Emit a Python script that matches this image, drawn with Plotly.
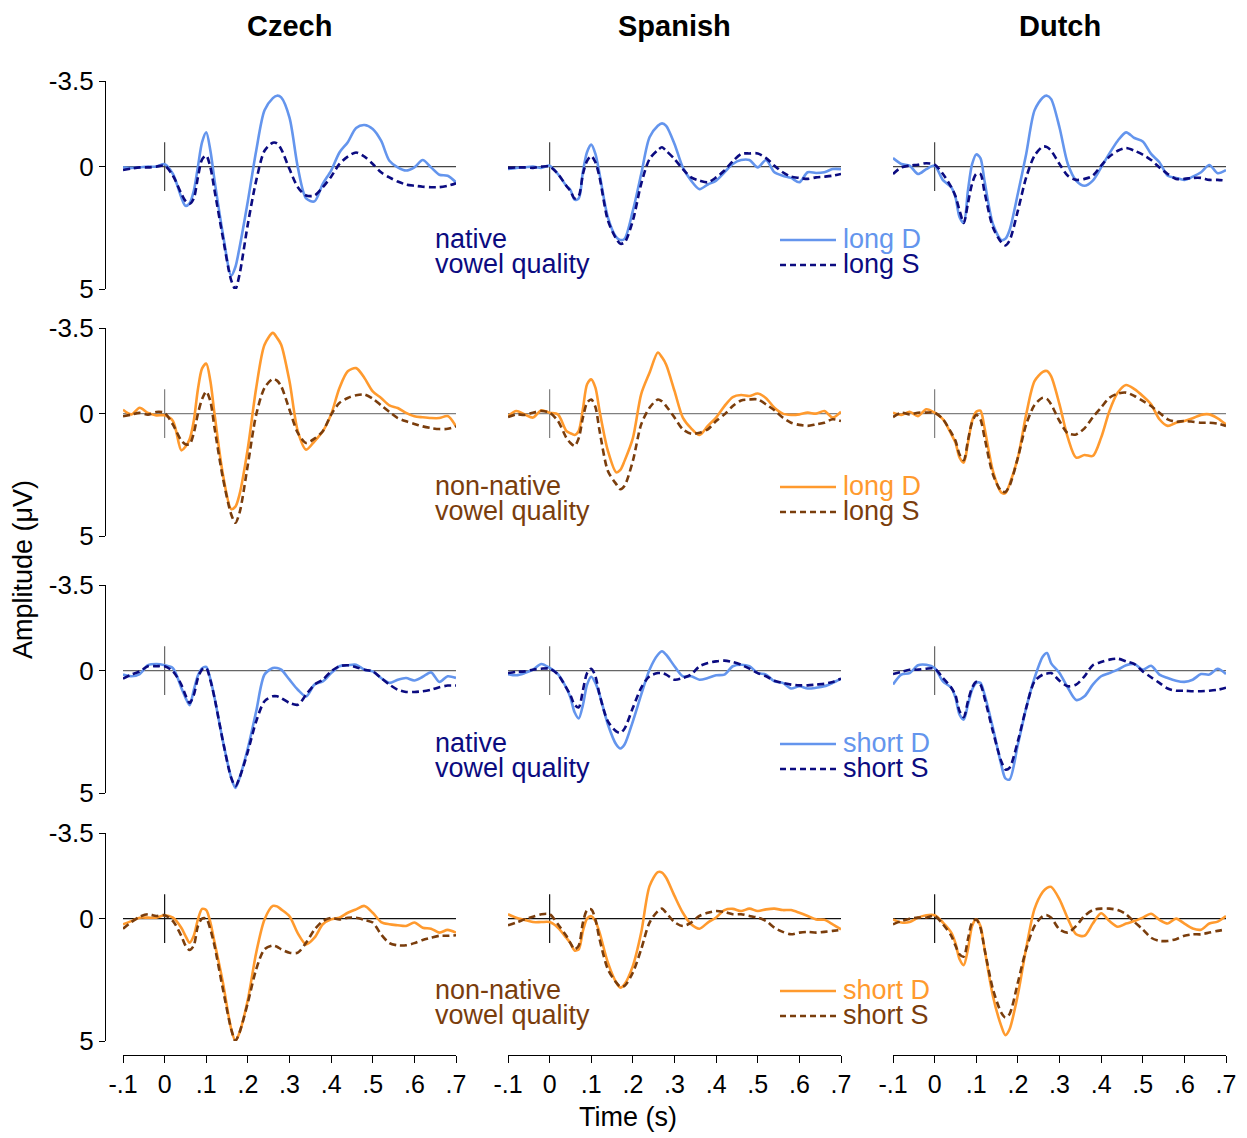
import plotly.graph_objects as go

# ---------------- data ----------------
TIME = [-0.10, -0.08, -0.06, -0.04, -0.02, 0.00, 0.02, 0.04,
        0.05, 0.06, 0.07, 0.08, 0.09, 0.10, 0.11, 0.12,
        0.14, 0.16, 0.17, 0.18,
        0.20, 0.22, 0.24, 0.26, 0.27, 0.28,
        0.30, 0.32, 0.34, 0.36, 0.38, 0.40, 0.42, 0.44, 0.46, 0.48, 0.50,
        0.52, 0.54, 0.56, 0.58, 0.60, 0.62, 0.64, 0.66, 0.68, 0.70]

LANGUAGES = ["Czech", "Spanish", "Dutch"]
X_TICKS = [-0.1, 0.0, 0.1, 0.2, 0.3, 0.4, 0.5, 0.6, 0.7]
X_TICK_TEXT = ["-.1", "0", ".1", ".2", ".3", ".4", ".5", ".6", ".7"]
Y_TICKS = [-3.5, 0, 5]
Y_TICK_TEXT = ["-3.5", "0", "5"]

# Row 1: native vowel quality, long D / long S
CZ_NAT_LONG_D = [0.03, 0.05, 0.03, 0.0, 0.0, -0.1, 0.3, 1.25,
                 1.6, 1.5, 1.0, 0.0, -1.0, -1.4, -0.65, 0.57,
                 2.75, 4.45, 4.1, 3.3,
                 1.4, -0.65, -2.3, -2.8, -2.9, -2.83,
                 -2.0, 0.03, 1.3, 1.42, 0.7, 0.16, -0.58, -1.0, -1.58, -1.7, -1.54,
                 -1.06, -0.24, 0.03, 0.16, 0.03, -0.27, 0.03, 0.33, 0.37, 0.64]
CZ_NAT_LONG_S = [0.14, 0.08, 0.03, 0.03, 0.0, -0.04, 0.37, 1.1,
                 1.4, 1.52, 1.3, 0.43, -0.3, -0.45, 0.03, 0.98,
                 2.9, 4.65, 5.0, 4.4,
                 2.34, 0.57, -0.65, -0.98, -0.95, -0.72,
                 0.1, 0.84, 1.18, 1.18, 0.84, 0.41, -0.11, -0.41, -0.58, -0.41, -0.11,
                 0.23, 0.44, 0.61, 0.73, 0.78, 0.82, 0.84, 0.84, 0.78, 0.68]
ES_NAT_LONG_D = [0.1, 0.05, 0.03, 0.0, 0.05, -0.04, 0.3, 0.78,
                 0.95, 1.35, 1.3, 0.2, -0.6, -0.9, -0.52, 0.3,
                 2.07, 2.88, 3.0, 2.95,
                 1.8, 0.3, -1.2, -1.67, -1.77, -1.67,
                 -0.93, 0.03, 0.57, 0.92, 0.73, 0.57, 0.23, -0.11, -0.27, -0.27, 0.03,
                 -0.27, 0.23, 0.37, 0.46, 0.64, 0.23, 0.26, 0.23, 0.1, 0.1]
ES_NAT_LONG_S = [0.05, 0.03, 0.03, 0.05, 0.0, 0.0, 0.3, 0.78,
                 1.0, 1.3, 1.2, 0.3, -0.24, -0.43, -0.18, 0.44,
                 2.2, 2.95, 3.15, 3.1,
                 2.2, 0.7, -0.31, -0.68, -0.79, -0.65,
                 -0.31, 0.1, 0.44, 0.57, 0.64, 0.44, 0.16, -0.22, -0.52, -0.54, -0.54,
                 -0.35, -0.04, 0.23, 0.41, 0.46, 0.5, 0.44, 0.41, 0.37, 0.3]
NL_NAT_LONG_D = [-0.35, -0.11, -0.04, 0.3, 0.1, -0.04, 0.55, 0.84,
                 1.25, 2.07, 2.3, 0.98, -0.1, -0.5, -0.35, 0.6,
                 2.34, 3.0, 2.95, 2.6,
                 1.1, -0.52, -2.3, -2.83, -2.9, -2.76,
                 -1.6, -0.11, 0.57, 0.78, 0.57, 0.03, -0.54, -1.06, -1.4, -1.17, -1.03,
                 -0.52, -0.18, 0.37, 0.46, 0.54, 0.41, 0.23, -0.07, 0.27, 0.14]
NL_NAT_LONG_S = [0.3, 0.03, -0.04, -0.08, -0.14, -0.08, 0.3, 0.84,
                 1.2, 1.8, 2.3, 1.5, 0.7, 0.3, 0.3, 1.05,
                 2.48, 3.09, 3.22, 3.02,
                 1.8, 0.44, -0.45, -0.82, -0.8, -0.65,
                 -0.11, 0.37, 0.54, 0.5, 0.37, -0.04, -0.41, -0.65, -0.76, -0.65, -0.49,
                 -0.27, 0.03, 0.3, 0.5, 0.5, 0.46, 0.46, 0.54, 0.54, 0.57]

# Row 2: non-native vowel quality, long D / long S
CZ_NN_LONG_D = [-0.16, 0.03, -0.24, -0.03, 0.07, 0.07, 0.3, 1.5,
                1.35, 1.05, 0.3, -1.0, -1.85, -2.05, -1.32, 0.03,
                2.48, 3.9, 3.8, 3.3,
                1.4, -1.05, -2.82, -3.3, -3.1, -2.82,
                -1.32, 0.72, 1.47, 1.13, 0.72, 0.03, -1.05, -1.73, -1.86, -1.46, -0.91,
                -0.64, -0.34, -0.23, -0.03, 0.11, 0.15, 0.18, 0.18, 0.1, 0.52]
CZ_NN_LONG_S = [0.11, 0.04, -0.03, 0.04, -0.07, -0.03, 0.45, 1.1,
                1.25, 1.25, 0.8, 0.0, -0.6, -0.9, -0.5, 0.59,
                2.63, 4.12, 4.46, 4.05,
                2.08, 0.04, -1.05, -1.42, -1.35, -1.12,
                -0.16, 0.79, 1.2, 1.02, 0.72, 0.04, -0.44, -0.64, -0.75, -0.78, -0.61,
                -0.34, -0.07, 0.18, 0.31, 0.42, 0.52, 0.59, 0.63, 0.62, 0.52]
ES_NN_LONG_D = [0.1, -0.11, 0.03, 0.16, -0.14, -0.04, 0.03, 0.7,
                0.8, 0.87, 0.7, -0.2, -1.2, -1.4, -1.06, -0.11,
                1.52, 2.4, 2.3, 1.93,
                1.0, -0.8, -1.67, -2.5, -2.3, -2.0,
                -0.93, 0.16, 0.6, 0.87, 0.5, 0.16, -0.31, -0.68, -0.76, -0.72, -0.82,
                -0.63, -0.24, 0.0, 0.05, 0.03, -0.04, 0.0, -0.11, 0.16, -0.08]
ES_NN_LONG_S = [0.14, 0.03, 0.05, -0.04, -0.11, -0.04, 0.3, 0.98,
                1.2, 1.32, 1.0, 0.16, -0.45, -0.58, -0.27, 0.7,
                2.34, 2.88, 3.09, 2.95,
                1.93, 0.44, -0.24, -0.58, -0.5, -0.31,
                0.16, 0.64, 0.82, 0.78, 0.64, 0.3, 0.03, -0.31, -0.54, -0.58, -0.58,
                -0.38, -0.14, 0.16, 0.37, 0.46, 0.5, 0.44, 0.37, 0.23, 0.3]
NL_NN_LONG_D = [-0.04, 0.05, -0.08, 0.1, -0.18, -0.04, 0.23, 0.84,
                1.18, 1.8, 2.0, 1.2, 0.3, -0.08, -0.12, 0.6,
                2.34, 3.22, 3.25, 2.88,
                1.8, 0.03, -1.33, -1.71, -1.74, -1.52,
                -0.38, 0.98, 1.8, 1.69, 1.73, 0.98, -0.11, -0.86, -1.17, -1.0, -0.72,
                -0.38, 0.23, 0.5, 0.37, 0.3, 0.19, 0.05, 0.03, 0.19, 0.44]
NL_NN_LONG_S = [0.14, -0.04, 0.03, -0.04, -0.04, -0.04, 0.23, 0.78,
                1.1, 1.67, 1.9, 1.1, 0.35, 0.05, 0.23, 0.98,
                2.48, 3.16, 3.2, 2.95,
                1.8, 0.44, -0.35, -0.65, -0.6, -0.38,
                0.3, 0.8, 0.85, 0.6, 0.15, -0.25, -0.65, -0.82, -0.86, -0.72, -0.52,
                -0.31, -0.04, 0.23, 0.33, 0.3, 0.33, 0.37, 0.37, 0.41, 0.5]

# Row 3: native vowel quality, short D / short S
CZ_NAT_SHORT_D = [0.16, 0.23, 0.14, -0.22, -0.27, -0.22, -0.1, 0.7,
                  1.1, 1.41, 0.8, 0.2, -0.1, -0.15, 0.35, 1.12,
                  2.88, 4.38, 4.79, 4.38,
                  3.16, 1.66, 0.16, -0.11, -0.11, -0.04,
                  0.37, 0.78, 1.05, 0.57, 0.44, 0.1, -0.18, -0.22, -0.24, -0.04, 0.03,
                  0.3, 0.5, 0.37, 0.3, 0.4, 0.25, 0.07, 0.46, 0.23, 0.3]
CZ_NAT_SHORT_S = [0.33, 0.16, 0.03, -0.18, -0.18, -0.18, 0.03, 0.57,
                  1.0, 1.32, 1.0, 0.3, -0.05, -0.1, 0.4, 1.12,
                  2.88, 4.38, 4.72, 4.38,
                  3.3, 2.07, 1.25, 1.05, 1.05, 1.12,
                  1.32, 1.39, 0.98, 0.57, 0.37, 0.03, -0.18, -0.22, -0.14, -0.04, 0.03,
                  0.3, 0.57, 0.78, 0.87, 0.87, 0.84, 0.78, 0.68, 0.61, 0.61]
ES_NAT_SHORT_D = [0.14, 0.19, 0.1, -0.04, -0.27, -0.11, 0.14, 0.7,
                  1.1, 1.7, 1.95, 1.4, 0.57, 0.25, 0.5, 0.98,
                  2.2, 3.02, 3.18, 3.02,
                  2.07, 0.98, -0.04, -0.65, -0.79, -0.65,
                  -0.18, 0.23, 0.23, 0.37, 0.3, 0.19, 0.16, -0.18, -0.24, -0.18, 0.1,
                  0.16, 0.44, 0.5, 0.73, 0.64, 0.73, 0.7, 0.64, 0.5, 0.33]
ES_NAT_SHORT_S = [0.1, 0.05, 0.03, -0.04, -0.08, -0.08, 0.16, 0.7,
                  1.0, 1.4, 1.5, 0.8, 0.1, -0.08, 0.23, 0.98,
                  2.07, 2.48, 2.54, 2.37,
                  1.52, 0.7, 0.23, 0.1, 0.1, 0.16,
                  0.37, 0.3, 0.16, -0.18, -0.31, -0.38, -0.41, -0.35, -0.24, -0.08, 0.1,
                  0.23, 0.41, 0.5, 0.57, 0.6, 0.6, 0.57, 0.54, 0.46, 0.33]
NL_NAT_SHORT_D = [0.57, 0.16, 0.1, -0.22, -0.24, -0.11, 0.44, 0.7,
                  1.1, 1.8, 2.0, 1.39, 0.78, 0.5, 0.5, 0.98,
                  2.34, 3.84, 4.4, 4.45,
                  3.02, 1.52, 0.3, -0.58, -0.72, -0.3,
                  0.1, 0.7, 1.2, 1.05, 0.57, 0.23, 0.1, -0.04, -0.22, -0.27, -0.04,
                  -0.2, 0.16, 0.3, 0.41, 0.46, 0.37, 0.14, 0.16, -0.08, 0.14]
NL_NAT_SHORT_S = [0.14, 0.05, -0.04, -0.04, -0.08, -0.08, 0.3, 0.7,
                  1.0, 1.66, 1.9, 1.25, 0.7, 0.46, 0.57, 1.12,
                  2.48, 3.7, 4.04, 3.97,
                  2.88, 1.52, 0.44, 0.16, 0.12, 0.1,
                  0.41, 0.64, 0.57, 0.23, -0.22, -0.35, -0.45, -0.49, -0.38, -0.27, 0.03,
                  0.27, 0.5, 0.73, 0.82, 0.82, 0.84, 0.84, 0.82, 0.78, 0.7]

# Row 4: non-native vowel quality, short D / short S
CZ_NN_SHORT_D = [0.23, 0.1, -0.04, -0.04, -0.04, -0.14, -0.04, 0.37,
                 0.7, 0.98, 0.7, 0.03, -0.4, -0.35, 0.16, 0.98,
                 2.61, 4.52, 4.99, 4.65,
                 3.3, 1.39, 0.03, -0.52, -0.5, -0.38,
                 -0.1, 0.6, 1.05, 0.78, 0.23, 0.03, -0.04, -0.24, -0.38, -0.52, -0.24,
                 0.14, 0.23, 0.27, 0.3, 0.16, 0.37, 0.41, 0.57, 0.46, 0.57]
CZ_NN_SHORT_S = [0.41, 0.14, -0.08, -0.18, -0.11, -0.14, 0.1, 0.7,
                 1.1, 1.28, 1.1, 0.3, 0.0, 0.0, 0.44, 1.12,
                 2.88, 4.52, 4.99, 4.65,
                 3.43, 2.07, 1.25, 1.1, 1.15, 1.25,
                 1.39, 1.39, 0.98, 0.45, 0.1, -0.03, 0.03, -0.04, -0.04, 0.05, 0.16,
                 0.64, 1.0, 1.09, 1.09, 1.0, 0.87, 0.78, 0.7, 0.7, 0.68]
ES_NN_SHORT_D = [-0.18, -0.04, 0.05, 0.14, 0.14, 0.14, 0.37, 0.78,
                 1.0, 1.3, 1.25, 0.5, 0.0, -0.1, 0.1, 0.57,
                 1.8, 2.61, 2.82, 2.68,
                 1.93, 0.57, -1.33, -1.9, -1.88, -1.67,
                 -0.93, -0.24, 0.23, 0.41, 0.16, -0.05, -0.35, -0.4, -0.31, -0.41, -0.31,
                 -0.38, -0.41, -0.35, -0.35, -0.24, -0.11, 0.03, 0.05, 0.23, 0.44]
ES_NN_SHORT_S = [0.27, 0.16, 0.03, -0.08, -0.18, -0.18, 0.23, 0.7,
                 1.0, 1.25, 1.1, 0.16, -0.35, -0.38, 0.03, 0.84,
                 2.07, 2.61, 2.78, 2.75,
                 2.2, 1.25, 0.16, -0.31, -0.41, -0.24,
                 0.14, 0.3, 0.16, -0.11, -0.24, -0.31, -0.27, -0.18, -0.18, -0.11, -0.04,
                 0.1, 0.37, 0.54, 0.64, 0.57, 0.54, 0.57, 0.54, 0.5, 0.46]
NL_NN_SHORT_D = [0.03, 0.16, 0.14, -0.04, -0.14, -0.14, 0.16, 0.57,
                 1.0, 1.66, 1.9, 1.25, 0.3, 0.03, 0.3, 1.25,
                 3.16, 4.38, 4.76, 4.52,
                 3.1, 1.2, -0.4, -1.1, -1.26, -1.3,
                 -0.79, 0.0, 0.64, 0.7, 0.2, -0.22, 0.1, 0.33, 0.2, 0.1, -0.04,
                 -0.2, 0.05, 0.2, 0.0, 0.2, 0.4, 0.45, 0.2, 0.12, -0.11]
NL_NN_SHORT_S = [0.23, 0.1, 0.0, -0.04, -0.04, -0.11, 0.23, 0.7,
                 1.1, 1.46, 1.55, 0.84, 0.16, 0.03, 0.37, 1.25,
                 2.88, 3.84, 4.04, 3.9,
                 2.61, 1.25, 0.3, -0.11, -0.14, -0.04,
                 0.44, 0.57, 0.3, -0.11, -0.35, -0.41, -0.41, -0.35, -0.18, 0.14, 0.44,
                 0.78, 0.91, 0.91, 0.84, 0.7, 0.64, 0.64, 0.57, 0.5, 0.44]

# ---------------- styling ----------------
LIGHT_BLUE = "#6495ED"
NAVY = "#0B0B80"
ORANGE = "#FF9A2E"
BROWN = "#7A3D0C"
FONT = "Liberation Sans, Arial, Helvetica, sans-serif"

ROWS = [
    dict(group=("native", "vowel quality"), labels=("long D", "long S"),
         colors=(LIGHT_BLUE, NAVY), text_color=NAVY,
         D=(CZ_NAT_LONG_D, ES_NAT_LONG_D, NL_NAT_LONG_D),
         S=(CZ_NAT_LONG_S, ES_NAT_LONG_S, NL_NAT_LONG_S)),
    dict(group=("non-native", "vowel quality"), labels=("long D", "long S"),
         colors=(ORANGE, BROWN), text_color=BROWN,
         D=(CZ_NN_LONG_D, ES_NN_LONG_D, NL_NN_LONG_D),
         S=(CZ_NN_LONG_S, ES_NN_LONG_S, NL_NN_LONG_S)),
    dict(group=("native", "vowel quality"), labels=("short D", "short S"),
         colors=(LIGHT_BLUE, NAVY), text_color=NAVY,
         D=(CZ_NAT_SHORT_D, ES_NAT_SHORT_D, NL_NAT_SHORT_D),
         S=(CZ_NAT_SHORT_S, ES_NAT_SHORT_S, NL_NAT_SHORT_S)),
    dict(group=("non-native", "vowel quality"), labels=("short D", "short S"),
         colors=(ORANGE, BROWN), text_color=BROWN,
         D=(CZ_NN_SHORT_D, ES_NN_SHORT_D, NL_NN_SHORT_D),
         S=(CZ_NN_SHORT_S, ES_NN_SHORT_S, NL_NN_SHORT_S)),
]
REF_COLORS = ["#444444", "#808080", "#666666", "#111111"]

# The page body has an 8px margin, so the figure is sized to fit inside the
# 1247x1138 window; all layout positions below are given in window pixels.
PAGE_W, PAGE_H, BODY = 1247, 1138, 8
W, H = PAGE_W - BODY, PAGE_H - BODY
COL_PX = [(123, 456), (508, 841), (893, 1226)]
ROW_PX = [(81, 289), (328, 536), (585, 793), (833, 1041)]
ZERO_PX = [166, 413, 670, 917]


def px(x):
    return (x - BODY) / W


def py(y):
    return 1 - (y - BODY) / H


fig = go.Figure()
layout = dict(width=W, height=H,
              margin=dict(l=0, r=0, t=0, b=0, pad=0, autoexpand=False),
              paper_bgcolor="white", plot_bgcolor="white", showlegend=False,
              font=dict(family=FONT, size=26, color="black"))
shapes, annotations = [], []

for r, row in enumerate(ROWS):
    for c in range(3):
        k = r * 3 + c + 1
        sfx = "" if k == 1 else str(k)
        xa, ya = "x" + sfx, "y" + sfx
        for series, color, dash in ((row["D"][c], row["colors"][0], "solid"),
                                    (row["S"][c], row["colors"][1], "7px,4px")):
            assert len(series) == len(TIME)
            fig.add_trace(go.Scatter(x=TIME, y=series, mode="lines", xaxis=xa, yaxis=ya,
                                     line=dict(color=color, width=2.6, dash=dash,
                                               shape="spline", smoothing=0.8),
                                     hoverinfo="skip"))
        x0p, x1p = COL_PX[c]
        y0p, y1p = ROW_PX[r]
        xdict = dict(domain=[px(x0p), px(x1p)], range=[-0.1, 0.7], showgrid=False,
                     zeroline=False, automargin=False)
        if r == len(ROWS) - 1:
            xdict.update(anchor="free", position=py(1055), showline=True,
                         linecolor="black", linewidth=1.3, ticks="outside", ticklen=7,
                         tickwidth=1.3, tickcolor="black", tickvals=X_TICKS,
                         ticktext=X_TICK_TEXT, tickfont=dict(size=25))
        else:
            xdict.update(anchor=ya, visible=False)
        ydict = dict(domain=[py(y1p), py(y0p)], range=[5, -3.5], showgrid=False,
                     zeroline=False, automargin=False)
        if c == 0:
            ydict.update(anchor="free", position=px(105), showline=True,
                         linecolor="black", linewidth=1.3, ticks="outside", ticklen=6,
                         tickwidth=1.3, tickcolor="black", tickvals=Y_TICKS,
                         ticktext=Y_TICK_TEXT, tickfont=dict(size=26))
        else:
            ydict.update(anchor=xa, visible=False)
        layout["xaxis" + sfx] = xdict
        layout["yaxis" + sfx] = ydict
        # reference lines: baseline and stimulus onset
        shapes.append(dict(type="line", xref=xa, yref=ya, x0=-0.1, x1=0.7, y0=0, y1=0,
                           line=dict(color=REF_COLORS[r], width=1.2), layer="below"))
        shapes.append(dict(type="line", xref=xa, yref=ya, x0=0, x1=0, y0=-1, y1=1,
                           line=dict(color=REF_COLORS[r], width=1.2), layer="below"))

    # group label (left) and legend (right) for this row
    z = ZERO_PX[r]
    for j, line_txt in enumerate(row["group"]):
        annotations.append(dict(text=line_txt, xref="paper", yref="paper",
                                x=px(433), y=py(z + 73 + j * 25),
                                xanchor="left", yanchor="middle", showarrow=False,
                                font=dict(size=27, color=row["text_color"])))
    for j, (lab, col, dash) in enumerate(zip(row["labels"], row["colors"],
                                           ("solid", "6px,4px"))):
        yy = py(z + 74 + j * 25)
        shapes.append(dict(type="line", xref="paper", yref="paper",
                           x0=px(780), x1=px(836), y0=yy, y1=yy,
                           line=dict(color=col, width=2.6, dash=dash)))
        annotations.append(dict(text=lab, xref="paper", yref="paper",
                                x=px(841), y=py(z + 73 + j * 25),
                                xanchor="left", yanchor="middle", showarrow=False,
                                font=dict(size=27, color=col)))

for c, lang in enumerate(LANGUAGES):
    x0p, x1p = COL_PX[c]
    annotations.append(dict(text="<b>%s</b>" % lang, xref="paper", yref="paper",
                            x=px((x0p + x1p) / 2), y=1.0, xanchor="center",
                            yanchor="top", showarrow=False,
                            font=dict(size=29, color="black")))

annotations.append(dict(text="Amplitude (\u03bcV)", xref="paper", yref="paper",
                        x=px(23), y=py(570), textangle=-90, xanchor="center",
                        yanchor="middle", showarrow=False, font=dict(size=27)))
annotations.append(dict(text="Time (s)", xref="paper", yref="paper",
                        x=px(628), y=py(1117), xanchor="center", yanchor="middle",
                        showarrow=False, font=dict(size=27)))

layout["shapes"] = shapes
layout["annotations"] = annotations
fig.update_layout(**layout)
fig.write_html("out.html")
